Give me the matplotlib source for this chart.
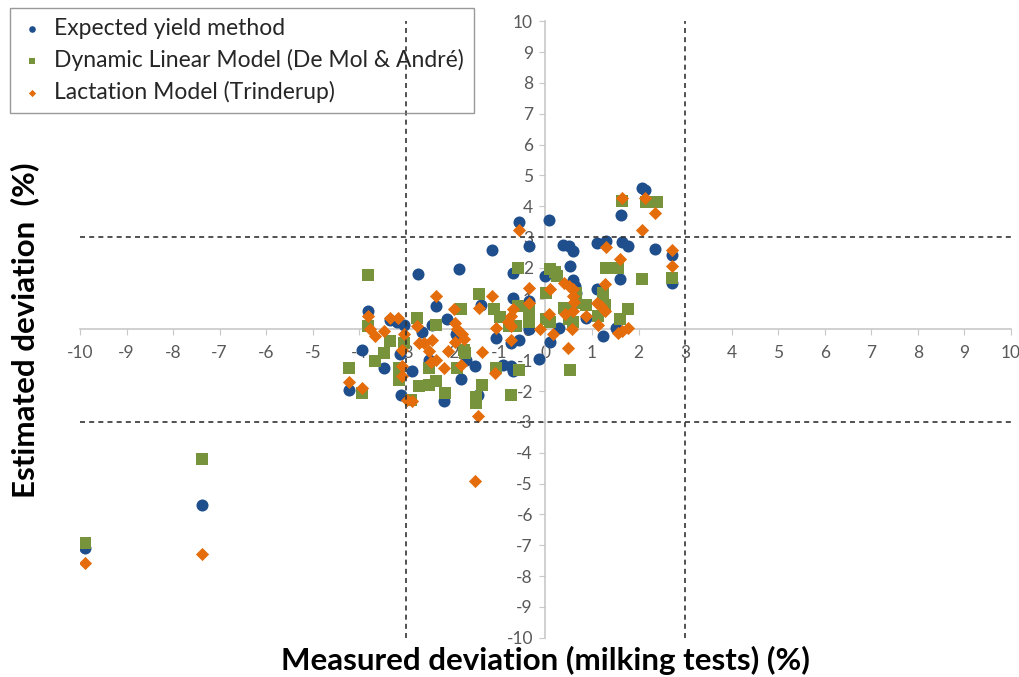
import numpy as np
import matplotlib
matplotlib.use('Agg')
import matplotlib.pyplot as plt

plt.rcParams['font.family'] = ['Lato', 'DejaVu Sans']
plt.rcParams['axes.unicode_minus'] = False

# Expected yield method
x_blue = [2.07, 2.14, 1.62, -0.58, 0.07, -0.36, -1.14, 0.38, 0.5, 0.6, 1.10, 1.31, 1.64, 1.78,
          2.36, 2.72, 2.72, -2.74, -1.86, -0.69, 0.0, 0.52, 0.6, 0.63, 0.66, 1.59, 1.10, -0.69,
          -0.36, -3.81, -3.34, -3.05, -2.35, -2.11, -1.39, -2.65, -2.44, -1.93, -1.07, -0.74,
          -0.56, -0.36, 0.09, 0.30, -0.13, 0.88, 1.23, 1.51, -3.95, -3.48, -3.12, -2.87, -2.51,
          -1.82, -1.71, -1.51, -0.74, -0.69, -0.92, -4.22, -3.10, -2.17, -1.46, -3.2, -9.9, -7.37]
y_blue = [4.58, 4.53, 3.71, 3.49, 3.55, 2.71, 2.57, 2.75, 2.7, 2.55, 2.79, 2.87, 2.84, 2.71,
          2.6, 2.41, 1.52, 1.79, 1.95, 1.82, 1.73, 2.06, 1.6, 1.4, 1.2, 1.65, 1.32, 1.03,
          0.92, 0.6, 0.3, 0.16, 0.76, 0.33, 0.81, -0.09, 0.14, -0.16, -0.27, -0.43,
          -0.33, 0.0, -0.41, 0.05, -0.95, 0.38, -0.22, 0.05, -0.65, -1.25, -0.81, -1.36, -0.98,
          -1.6, -0.98, -1.19, -1.19, -1.36, -1.14, -1.97, -2.11, -2.33, -2.11, 0.24, -7.1, -5.69]

# Dynamic Linear Model
x_green = [1.64, 2.15, 2.4, -3.81, -0.6, 0.09, 0.2, 0.25, 1.30, 1.56, 2.07, 2.72, 0.01, -1.43,
           -1.10, -0.6, -1.82, -0.97, -0.35, -0.35, -0.35, 0.01, 0.09, 0.4, 0.5, 0.5, 0.6, 0.66,
           0.66, 0.88, 1.24, 1.27, 1.13, 1.6, 1.78, -3.81, -2.76, -2.35, -0.78, -0.63, -3.34,
           -3.05, -3.48, -3.66, -4.22, -3.15, -3.15, -2.51, -1.9, -1.75, -1.72, -2.72, -2.5,
           -2.36, -2.15, -1.36, -1.5, -1.5, -1.07, -0.74, -0.56, 0.52, -3.95, -2.88, -9.9, -7.37]
y_green = [4.17, 4.15, 4.15, 1.76, 2.0, 1.95, 1.85, 1.75, 2.0, 2.0, 1.65, 1.68, 1.19, 1.14,
           0.65, 0.76, 0.67, 0.4, 0.65, 0.45, 0.23, 0.33, 0.23, 0.7, 0.6, 0.35, 0.25, 1.19,
           0.87, 0.81, 1.19, 0.81, 0.43, 0.33, 0.67, 0.11, 0.38, 0.16, 0.11, 0.11, -0.38,
           -0.43, -0.76, -1.03, -1.25, -1.25, -1.63, -1.25, -1.25, -0.65, -0.76, -1.84, -1.8,
           -1.68, -2.06, -1.79, -2.2, -2.38, -1.25, -2.11, -1.3, -1.3, -2.06, -2.28, -6.92, -4.2]

# Lactation Model
x_orange = [1.64, 2.14, 2.36, 2.07, -0.58, 1.31, 2.72, 2.72, 1.59, 1.28, -0.35, 0.09, 0.4, 0.5,
            0.6, 0.6, 0.62, 0.6, -1.14, -2.35, -0.35, -0.7, -0.75, -0.8, -0.75, 1.1, 1.2, 1.28,
            0.88, 1.13, 1.56, 1.64, 1.78, 0.07, 0.41, -0.12, 0.16, 0.56, 0.48, -0.75, -1.97,
            -1.43, -3.81, -3.34, -3.16, -2.76, -1.95, -1.9, -1.8, -1.75, -1.95, -3.05, -3.48,
            -3.77, -3.66, -2.72, -2.62, -2.44, -2.51, -3.08, -2.36, -2.47, -2.09, -2.18, -1.82,
            -1.36, -1.07, -1.09, -3.08, -3.08, -4.22, -3.95, -2.98, -2.87, -1.46, -1.51, -9.9, -7.37]
y_orange = [4.25, 4.25, 3.79, 3.23, 3.23, 2.66, 2.57, 2.06, 2.28, 1.49, 1.36, 1.32, 1.5, 1.4,
            1.3, 1.1, 0.9, 0.6, 1.08, 1.08, 0.87, 0.65, 0.45, 0.25, 0.1, 0.87, 0.75, 0.6,
            0.43, 0.16, -0.11, -0.05, 0.05, 0.5, 0.49, 0.0, -0.16, 0.0, -0.6, -0.33, 0.65,
            0.71, 0.43, 0.38, 0.38, 0.11, 0.2, 0.0, -0.15, -0.3, -0.4, -0.16, -0.05,
            0.0, -0.22, -0.43, -0.43, -0.33, -0.7, -0.65, -1.0, -1.07, -0.7, -1.25, -1.14,
            -0.74, 0.05, -1.41, -1.19, -1.5, -1.71, -1.9, -2.28, -2.33, -2.8, -4.93, -7.57, -7.28]

ticks = list(range(-10, 11))

fig = plt.figure(figsize=(10.2, 6.77), dpi=100)
ax = fig.add_axes([80/1020, 1-637.8/677, 931/1020, 616.6/677])

ax.scatter(x_blue, y_blue, s=75, marker='o', color='#1F4E8C', linewidths=0,
           label='Expected yield method', zorder=3)
ax.scatter(x_green, y_green, s=65, marker='s', color='#77933C', linewidths=0,
           label='Dynamic Linear Model (De Mol & André)', zorder=4)
ax.scatter(x_orange, y_orange, s=45, marker='D', color='#E46C0A', linewidths=0,
           label='Lactation Model (Trinderup)', zorder=5)

# dashed lines at +-3
for v in (-3, 3):
    ax.axvline(v, color='#333333', lw=1.2, ls=(0, (3, 2.5)), zorder=6)
    ax.axhline(v, color='#333333', lw=1.2, ls=(0, (3, 2.5)), zorder=6)

ax.set_xlim(-10, 10)
ax.set_ylim(-10, 10)
ax.set_xticks(ticks)
ax.set_yticks(ticks)
ax.spines['left'].set_position('zero')
ax.spines['bottom'].set_position('zero')
ax.spines['top'].set_visible(False)
ax.spines['right'].set_visible(False)
for s in ('left', 'bottom'):
    ax.spines[s].set_color('#c8c8c8')
    ax.spines[s].set_linewidth(1.2)
ax.tick_params(axis='both', colors='#c8c8c8', length=4, labelsize=12.5, labelcolor='#595959')
ax.tick_params(axis='x', pad=7)
ax.tick_params(axis='y', pad=5)

fig.text(545/1020, 1-660/677, 'Measured deviation (milking tests) (%)', ha='center', va='center',
         fontsize=22.5, fontweight='bold', color='black')
fig.text(25/1020, 1-330/677, 'Estimated deviation  (%)', ha='center', va='center',
         rotation=90, fontsize=22.5, fontweight='bold', color='black')

leg = fig.legend(loc='upper left', bbox_to_anchor=(10/1020, 1-8/677), fontsize=16.5,
                 frameon=True, fancybox=False, edgecolor='#808080', facecolor='none',
                 markerscale=0.55, handletextpad=0.45, handlelength=1.0, labelspacing=0.42,
                 borderpad=0.45, borderaxespad=0)
leg.get_frame().set_linewidth(1.0)
for t in leg.get_texts():
    t.set_color('#262626')

plt.savefig('out.png', dpi=100)
